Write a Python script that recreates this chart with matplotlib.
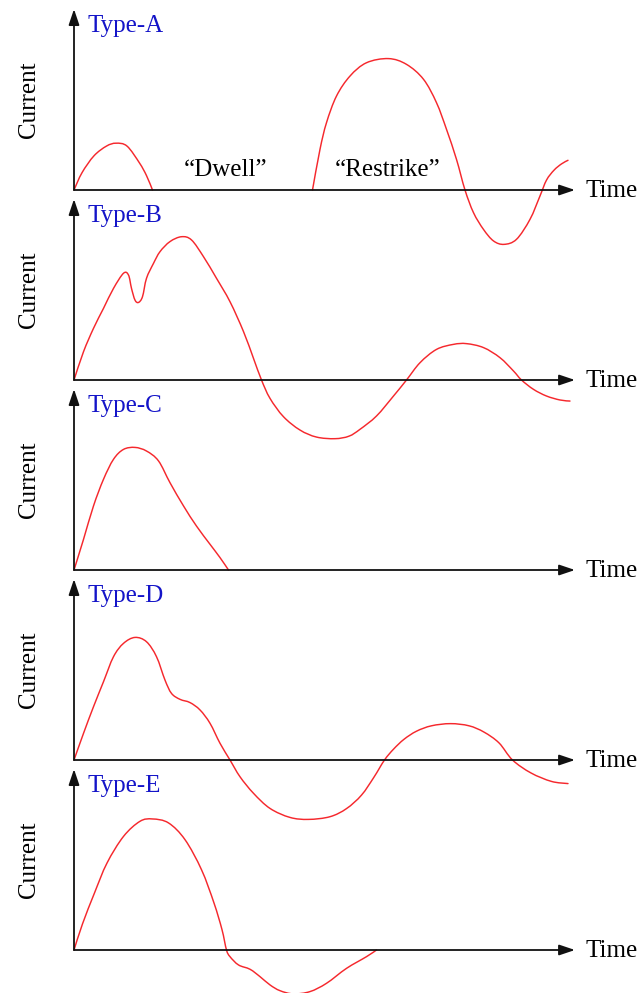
import matplotlib
matplotlib.use('Agg')
import matplotlib.pyplot as plt
from matplotlib.path import Path
from matplotlib.patches import PathPatch

plt.rcParams['font.family'] = ['Liberation Serif', 'DejaVu Serif']

# ---------------- data (time units 0..10, current units 0..10) ----------------
panel_labels = ['Type-A', 'Type-B', 'Type-C', 'Type-D', 'Type-E']
y_label = 'Current'
x_label = 'Time'
dwell_text = '\u201cDwell\u201d'
restrike_text = '\u201cRestrike\u201d'

typeA_first_t = [0.0, 0.16, 0.40, 0.65, 0.84, 1.06, 1.31, 1.45, 1.57]
typeA_first_i = [0.0, 0.96, 1.90, 2.44, 2.60, 2.44, 1.50, 0.80, 0.0]

typeA_restrike_t = [4.77, 4.92, 5.05, 5.25, 5.52, 5.85, 6.29, 6.65, 6.99, 7.25, 7.45,
                    7.65, 7.82, 7.99, 8.19, 8.39, 8.60, 8.85, 9.12, 9.32, 9.45, 9.60, 9.75, 9.88]
typeA_restrike_i = [0.0, 2.26, 3.74, 5.22, 6.33, 7.07, 7.30, 6.98, 6.15, 4.85, 3.37,
                    1.70, 0.0, -1.26, -2.19, -2.83, -3.02, -2.74, -1.63, -0.33, 0.55, 1.10, 1.45, 1.65]

typeB_t = [0.0, 0.19, 0.39, 0.59, 0.79, 0.99, 1.09, 1.15, 1.22, 1.29, 1.37, 1.45, 1.59,
           1.72, 1.92, 2.15, 2.35, 2.59, 2.85, 3.12, 3.39, 3.59, 3.75, 3.92, 4.19, 4.52,
           4.85, 5.22, 5.50, 5.72, 6.05, 6.39, 6.65, 6.92, 7.25, 7.59, 7.85, 8.19, 8.52,
           8.79, 8.95, 9.19, 9.45, 9.72, 9.92]
typeB_i = [0.0, 1.57, 2.87, 3.98, 5.09, 5.93, 5.83, 5.09, 4.44, 4.31, 4.63, 5.65, 6.48,
           7.13, 7.69, 7.96, 7.78, 6.85, 5.65, 4.35, 2.69, 1.20, 0.0, -1.02, -2.04, -2.78,
           -3.17, -3.26, -3.12, -2.74, -2.00, -0.89, 0.0, 0.96, 1.70, 1.98, 2.02, 1.80, 1.24,
           0.50, 0.0, -0.52, -0.89, -1.11, -1.17]

typeC_t = [0.0, 0.19, 0.39, 0.59, 0.79, 0.99, 1.22, 1.45, 1.69, 1.92, 2.19, 2.45, 2.72, 2.92, 3.09]
typeC_i = [0.0, 1.70, 3.56, 5.04, 6.15, 6.70, 6.81, 6.61, 6.06, 4.85, 3.56, 2.44, 1.43, 0.69, 0.0]

typeD_t = [0.0, 0.19, 0.39, 0.59, 0.79, 0.99, 1.22, 1.45, 1.65, 1.82, 1.95, 2.12, 2.32,
           2.52, 2.72, 2.92, 3.12, 3.32, 3.59, 3.92, 4.32, 4.69, 5.12, 5.45, 5.75, 6.00,
           6.21, 6.39, 6.60, 6.85, 7.15, 7.53, 7.90, 8.20, 8.50, 8.77, 9.14, 9.55, 9.88]
typeD_i = [0.0, 1.48, 2.96, 4.35, 5.74, 6.48, 6.81, 6.57, 5.74, 4.44, 3.70, 3.37, 3.19,
           2.78, 2.04, 0.93, 0.0, -0.93, -1.85, -2.69, -3.19, -3.30, -3.15, -2.70, -1.95, -0.95,
           0.0, 0.60, 1.15, 1.60, 1.90, 2.02, 1.90, 1.55, 0.95, 0.0, -0.72, -1.19, -1.31]

typeE_t = [0.0, 0.17, 0.41, 0.66, 0.99, 1.32, 1.57, 1.89, 2.22, 2.55, 2.80, 2.96, 3.05,
           3.12, 3.29, 3.52, 3.72, 3.92, 4.12, 4.39, 4.72, 5.05, 5.45, 5.85, 6.05]
typeE_i = [0.0, 1.45, 3.17, 4.83, 6.31, 7.15, 7.28, 7.06, 6.13, 4.46, 2.61, 1.13, 0.0,
           -0.37, -0.83, -1.07, -1.48, -1.94, -2.26, -2.44, -2.31, -1.85, -1.02, -0.37, 0.0]

curves = [
    [(typeA_first_t, typeA_first_i), (typeA_restrike_t, typeA_restrike_i)],
    [(typeB_t, typeB_i)],
    [(typeC_t, typeC_i)],
    [(typeD_t, typeD_i)],
    [(typeE_t, typeE_i)],
]


def smooth_path(t, i):
    """Catmull-Rom curve through the read points, expressed as cubic Bezier segments."""
    pts = list(zip(t, i))
    n = len(pts)
    verts = [pts[0]]
    codes = [Path.MOVETO]
    for k in range(n - 1):
        p0 = pts[max(k - 1, 0)]
        p1 = pts[k]
        p2 = pts[k + 1]
        p3 = pts[min(k + 2, n - 1)]
        c1 = (p1[0] + (p2[0] - p0[0]) / 6.0, p1[1] + (p2[1] - p0[1]) / 6.0)
        c2 = (p2[0] - (p3[0] - p1[0]) / 6.0, p2[1] - (p3[1] - p1[1]) / 6.0)
        verts += [c1, c2, p2]
        codes += [Path.CURVE4, Path.CURVE4, Path.CURVE4]
    return Path(verts, codes)


# ---------------- layout ----------------
W, H = 643, 993
fig = plt.figure(figsize=(W / 100, H / 100), dpi=100)
fig.patch.set_facecolor('white')

left_px, width_px, height_px = 74, 500, 180
baselines_px = [190, 380, 570, 760, 950]
red = '#f5282d'
blue = '#1414c8'

arrow_style = '-|>,head_length=0.95,head_width=0.32'

for k, y0 in enumerate(baselines_px):
    ax = fig.add_axes([left_px / W, 1 - y0 / H, width_px / W, height_px / H])
    ax.set_xlim(0, 10)
    ax.set_ylim(0, 10)
    ax.axis('off')
    ax.patch.set_visible(False)

    for t, i in curves[k]:
        patch = PathPatch(smooth_path(t, i), facecolor='none', edgecolor=red, lw=1.05,
                          clip_on=False, capstyle='round', joinstyle='round', zorder=3)
        ax.add_patch(patch)

    # axes with arrows
    ax.annotate('', xy=(10.02, 0), xytext=(0, 0),
                arrowprops=dict(arrowstyle=arrow_style, color='#111111', lw=1.3,
                                shrinkA=0, shrinkB=0), annotation_clip=False)
    ax.annotate('', xy=(0, 10.05), xytext=(0, 0),
                arrowprops=dict(arrowstyle=arrow_style, color='#111111', lw=1.3,
                                shrinkA=0, shrinkB=0), annotation_clip=False)

    ax.text(10.22, -0.37, x_label, ha='left', va='baseline', fontsize=18,
            color='black', clip_on=False)
    ax.text(0.27, 8.8, panel_labels[k], ha='left', va='baseline', fontsize=18,
            color=blue, clip_on=False)
    ax.text(-0.9, 5.0, y_label, ha='center', va='center', rotation=90, fontsize=18,
            color='black', clip_on=False)

    if k == 0:
        ax.text(3.04, 0.78, dwell_text, ha='center', va='baseline', fontsize=18,
                color='black')
        ax.text(6.28, 0.78, restrike_text, ha='center', va='baseline', fontsize=18,
                color='black')

fig.savefig('out.png', dpi=100, facecolor='white')
